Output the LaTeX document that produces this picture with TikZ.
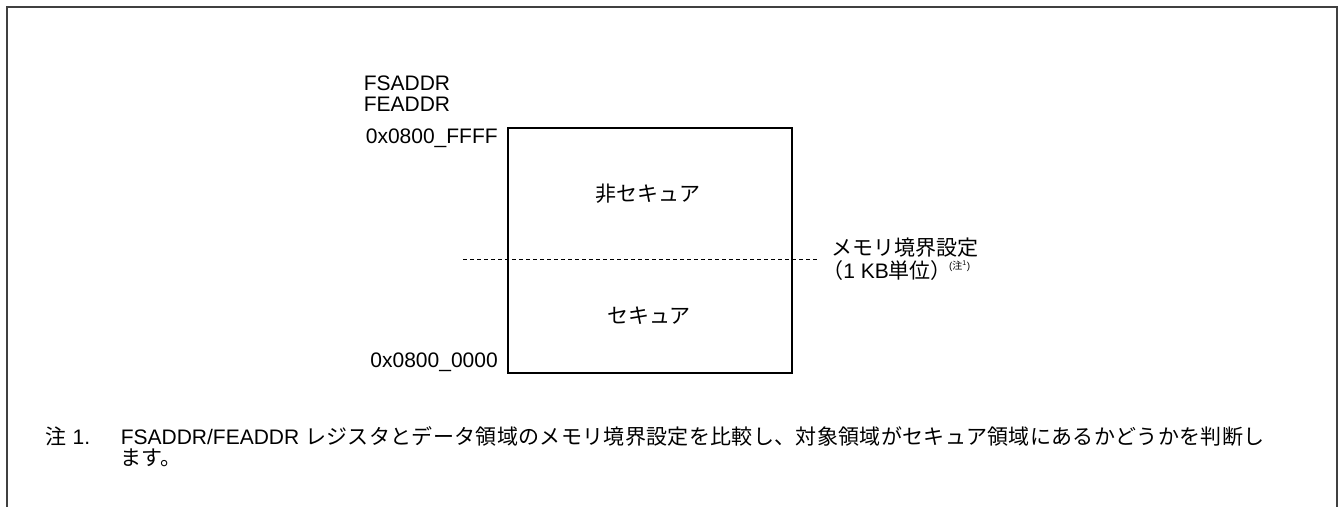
\documentclass[tikz,border=0pt]{standalone}
\usepackage{fontspec}
\setmainfont{Liberation Sans}
\newfontfamily\jpfont{Noto Sans CJK JP}
\newfontfamily\jpwide{Noto Sans CJK JP}[LetterSpace=1.6]
\usepackage{tikz}
\usetikzlibrary{positioning, calc}
\usepackage{xcolor}
\definecolor{framegray}{HTML}{404040}
\newcommand{\txtsize}{\fontsize{15.75}{21}\selectfont}
\tikzset{
  lbl/.style={inner sep=0pt, font=\txtsize},
  jplbl/.style={inner sep=0pt, font=\txtsize\jpfont},
}

\begin{document}
\begin{tikzpicture}[x=0.75pt, y=-0.75pt]
        \useasboundingbox (0,0) rectangle (1343,507);
        % open frame round the figure
        \draw[framegray, line width=1.1pt]
          (7,507)--(7,7)--(1337,7)--(1337,507);
        % memory area and its boundary
        \draw[line width=1pt] (508,128) rectangle (792,373);
        \coordinate (bndL) at (463,259.5);
        \coordinate (bndR) at (818,259.5);
        \draw[line width=0.6pt, dash pattern=on 3pt off 2.25pt] (bndL)--(bndR);
        % addresses
        \node[lbl, anchor=base west] (fsaddr) at (363.5,90.7) {FSADDR};
        \node[lbl, anchor=base west] (feaddr) at (363.5,111.7) {FEADDR};
        \node[lbl, anchor=base east] (topaddr) at (498,143.3) {0x0800\_FFFF};
        \node[lbl, anchor=base east] (botaddr) at (498,367.3) {0x0800\_0000};
        % areas
        \node[jplbl] (nonsec) at (648,193.3) {非セキュア};
        \node[jplbl] (sec) at (649,316) {セキュア};
        \node[jplbl, anchor=base west] (bnd1) at (831,255.5) {メモリ境界設定};
        \node[lbl, anchor=base west] (bnd2) at (822,278) {{\jpfont （}1 KB{\jpfont 単位）}};
        \node[inner sep=0pt, anchor=base west, font=\fontsize{7.5}{8}\selectfont]
          (bndnote) at ([xshift=-2.5pt, yshift=6.5pt]bnd2.base east)
          {({\jpfont 注}\textsuperscript{1})};
        % note
        \node[lbl, anchor=base west] (notenum) at (45.5,444) {{\jpfont 注} 1.};
        \node[lbl, anchor=base west] (note1) at (120.5,444)
          {FSADDR/FEADDR {\jpwide レジスタとデータ領域のメモリ境界設定を比較し、対象領域がセキュア領域にあるかどうかを判断し}};
        \node[jplbl, anchor=base west] (note2) at (120,465.5) {ます。};
      \end{tikzpicture}
\end{document}
